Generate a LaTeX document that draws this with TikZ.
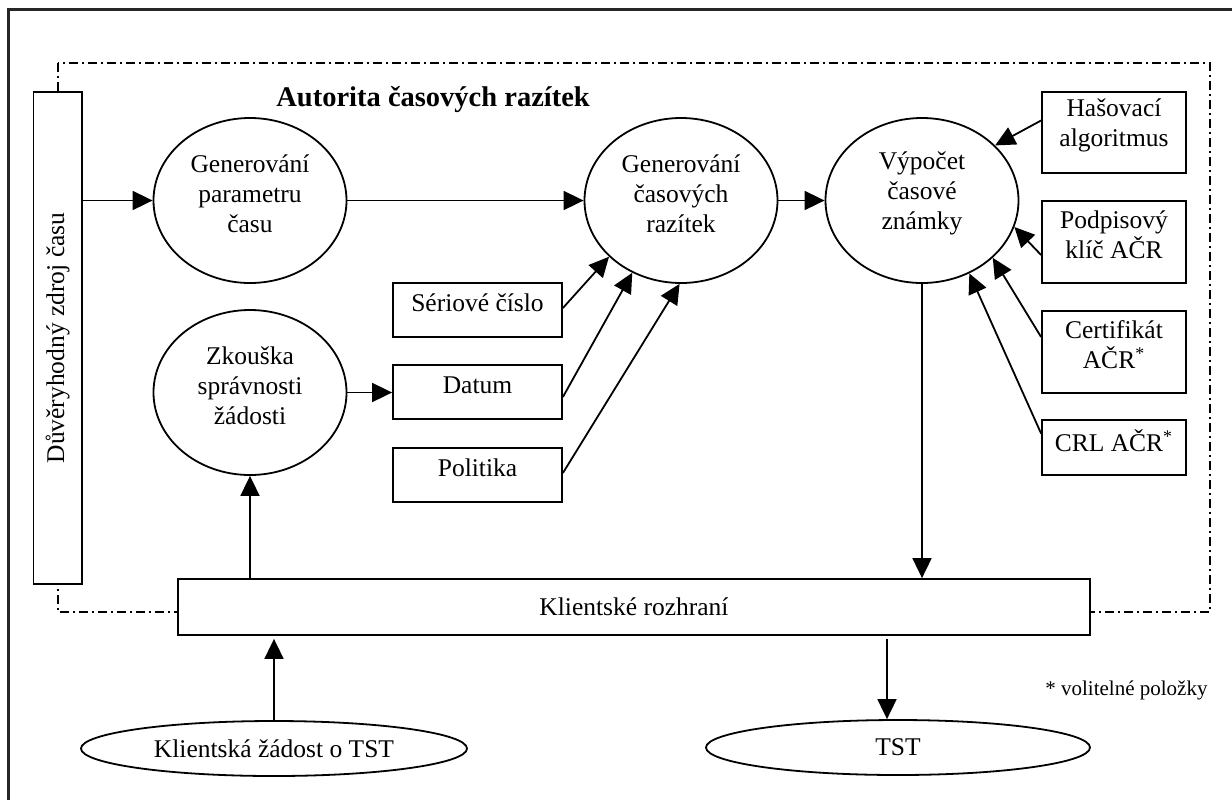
\documentclass[tikz,border=0pt]{standalone}
\usepackage{fontspec}
\setmainfont{Liberation Serif}
\usetikzlibrary{arrows.meta,shapes.geometric,calc}
\newcommand{\mainsz}{\fontsize{12.75}{15}\selectfont}
\newcommand{\titlesz}{\fontsize{14.25}{17}\selectfont\bfseries}
\newcommand{\notesz}{\fontsize{10.5}{12.5}\selectfont}
\begin{document}
\begin{tikzpicture}[x=0.5pt,y=-0.5pt,
  lw/.style={line width=0.9pt},
  boxshape/.style={lw, draw, fill=white, inner sep=0pt, rectangle},
  ovalshape/.style={lw, draw, fill=white, inner sep=0pt, ellipse},
  bubble/.style={ovalshape, minimum width=96.5pt, minimum height=82.5pt},
  lbl/.style={align=center, font=\mainsz, yshift=3.6pt},
  lbl0/.style={align=center, font=\mainsz},
  arr/.style={lw, -{Triangle[length=10pt,width=9.5pt]}},
  frameline/.style={line width=1.2pt, draw=black!85},
  dashdot/.style={line width=0.8pt, dash pattern=on 4.5pt off 2pt on 1pt off 2pt}
]
\useasboundingbox (0,0) rectangle (1232,799);
\clip (0,0) rectangle (1232,799);
\fill[white] (0,0) rectangle (1232,799);
% outer frame (right and bottom outside the picture)
\draw[frameline] (8.5,840) -- (8.5,9.5) -- (1260,9.5);
% dash-dot boundary of the authority
\draw[dashdot] (58,63) rectangle (1210,612);

% title
\node[anchor=base west, font=\titlesz, inner sep=0pt] (title) at (276,106) {Autorita časových razítek};

% trusted time source
\node[boxshape, minimum width=24.25pt, minimum height=246pt,
  label={[lbl0, rotate=90]center:Důvěryhodný zdroj času}] (src) at (57.75,338) {};

% bubbles
\node[bubble, label={[lbl]center:{Generování\\parametru\\času}}] (c1) at (250,200.5) {};
\node[bubble, label={[lbl]center:{Generování\\časových\\razítek}}] (c2) at (681,200.5) {};
\node[bubble, label={[lbl]center:{Výpočet\\časové\\známky}}] (c3) at (922,200.5) {};
\node[bubble, label={[lbl]center:{Zkouška\\správnosti\\žádosti}}] (c4) at (250,392.5) {};

% right boxes
\node[boxshape, minimum width=72pt, minimum height=40.5pt, label={[lbl]center:{Hašovací\\algoritmus}}] (hash) at (1114,132.5) {};
\node[boxshape, minimum width=72pt, minimum height=41pt, label={[lbl]center:{Podpisový\\klíč AČR}}] (podp) at (1114,242) {};
\node[boxshape, minimum width=72pt, minimum height=41pt, label={[lbl]center:{Certifikát\\AČR\textsuperscript{*}}}] (cert) at (1114,352) {};
\node[boxshape, minimum width=72pt, minimum height=27.5pt, label={[lbl]center:{CRL AČR\textsuperscript{*}}}] (crl) at (1114,447.5) {};

% middle boxes
\node[boxshape, minimum width=84.5pt, minimum height=27pt, label={[lbl]center:{Sériové číslo}}] (ser) at (477.5,310) {};
\node[boxshape, minimum width=84.5pt, minimum height=27pt, label={[lbl]center:{Datum}}] (dat) at (477.5,392) {};
\node[boxshape, minimum width=84.5pt, minimum height=27pt, label={[lbl]center:{Politika}}] (pol) at (477.5,475) {};

% client interface
\node[boxshape, minimum width=456pt, minimum height=28pt, label={[lbl0]center:{Klientské rozhraní}}] (cli) at (634,607) {};

% request / TST
\node[ovalshape, minimum width=193pt, minimum height=27.5pt, label={[lbl0]center:{Klientská žádost o TST}}] (req) at (274,748.5) {};
\node[ovalshape, minimum width=192pt, minimum height=27.5pt, label={[lbl0]center:{TST}}] (tst) at (898,747.5) {};

% note
\node[anchor=west, font=\notesz, inner sep=0pt] (note) at (1045,690) {* volitelné položky};

% connectors
\draw[arr] (src.east |- c1.west) -- (c1.west);
\draw[arr] (c1.east) -- (c2.west);
\draw[arr] (c2.east) -- (c3.west);
\draw[arr] (c4.east) -- (dat.west |- c4.east);
\draw[arr] (c4.south |- cli.north) -- (c4.south);
\draw[arr] (c3.south) -- (c3.south |- cli.north);
\draw[arr] ($(cli.south)+(253,3)$) -- ($(tst.north)+(-11,0)$);
\draw[arr] (req.north) -- ($(req.north |- cli.south)+(0,3)$);

\draw[arr] ($(ser.east)+(0,-2)$) -- (c2.218.5);
\draw[arr] ($(dat.east)+(0,5)$) -- (c2.236.5);
\draw[arr] ($(pol.east)+(0,-2)$) -- (c2.269);

\draw[arr] ($(hash.west)+(0,-12)$) -- (c3.37);
\draw[arr] ($(podp.west)+(0,13)$) -- (c3.-16);
\draw[arr] ($(cert.west)+(0,-15)$) -- (c3.-39);
\draw[arr] ($(crl.west)+(0,-14)$) -- (c3.-57);
\end{tikzpicture}
\end{document}
